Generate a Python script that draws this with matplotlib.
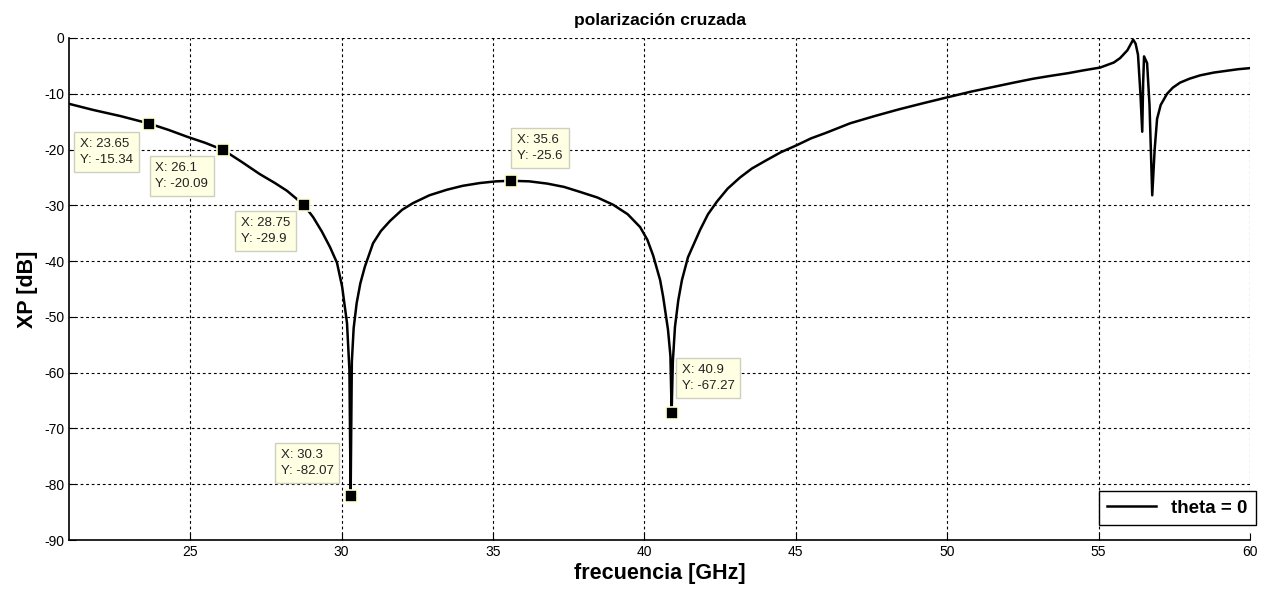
import numpy as np
import matplotlib
matplotlib.use("Agg")
import matplotlib.pyplot as plt

plt.rcParams["font.family"] = ["Liberation Sans", "DejaVu Sans"]
plt.rcParams["axes.unicode_minus"] = False

# curve
freq = [21.0, 21.8, 22.7, 23.65, 24.3, 24.9, 25.5, 26.1, 26.7, 27.3, 27.8, 28.2,
        28.75, 29.06, 29.35, 29.62, 29.85, 30.02, 30.18, 30.26, 30.3, 30.34, 30.4,
        30.5, 30.62, 30.77, 31.04, 31.3, 31.6, 32.0, 32.36, 32.9, 33.48, 34.0,
        34.57, 35.1, 35.6, 36.2, 36.79, 37.35, 37.88, 38.45, 38.97, 39.45, 39.86,
        40.1, 40.29, 40.52, 40.62, 40.78, 40.86, 40.9, 40.94, 41.01, 41.12, 41.24,
        41.44, 41.84, 42.1, 42.4, 42.75, 43.16, 43.55, 44.0, 44.5, 45.04, 45.5,
        46.0, 46.79, 47.6, 48.4, 49.2, 50.03, 50.8, 51.5, 52.2, 52.84, 53.4, 54.0,
        54.5, 55.05, 55.5, 55.71, 55.95, 56.14, 56.22, 56.3, 56.38, 56.44,
        56.47, 56.5, 56.6, 56.68, 56.77, 56.85, 56.93, 57.05, 57.26, 57.45, 57.69,
        58.0, 58.35, 58.8, 59.2, 59.6, 60.0]
xp = [-11.8, -12.9, -14.0, -15.34, -16.5, -17.7, -18.8, -20.09, -22.2, -24.4,
      -26.0, -27.4, -29.9, -32.1, -34.7, -37.5, -40.3, -44.6, -51.1, -59.5,
      -82.07, -58.0, -52.0, -47.5, -44.0, -41.0, -36.8, -34.6, -32.8, -30.8,
      -29.6, -28.2, -27.2, -26.5, -26.0, -25.7, -25.6, -25.7, -26.1, -26.7,
      -27.6, -28.6, -29.9, -31.6, -33.9, -36.2, -39.0, -43.4, -46.4, -52.3,
      -57.0, -67.27, -58.0, -51.8, -47.0, -43.4, -39.3, -34.4, -31.6, -29.3,
      -27.0, -25.0, -23.4, -22.0, -20.5, -19.2, -18.0, -17.0, -15.3, -14.0,
      -12.8, -11.7, -10.6, -9.6, -8.8, -8.0, -7.3, -6.8, -6.3, -5.8, -5.3,
      -4.4, -3.6, -2.2, -0.3, -1.0, -3.0, -10.0, -16.8, -8.0, -3.3, -4.5,
      -12.0, -28.2, -20.0, -14.5, -12.0, -10.0, -8.9, -8.0, -7.3, -6.7, -6.2,
      -5.9, -5.6, -5.4]

# data tips
tip_x = [23.65, 26.1, 28.75, 30.3, 35.6, 40.9]
tip_y = [-15.34, -20.09, -29.9, -82.07, -25.6, -67.27]
tip_labels = ["X: 23.65\nY: -15.34", "X: 26.1\nY: -20.09", "X: 28.75\nY: -29.9",
              "X: 30.3\nY: -82.07", "X: 35.6\nY: -25.6", "X: 40.9\nY: -67.27"]
tip_offsets = [(-69, -14), (-68, -12), (-63, -12), (-70, 47), (6, 47), (10, 49)]

xticks = [25, 30, 35, 40, 45, 50, 55, 60]
yticks = list(range(-90, 1, 10))

fig = plt.figure(figsize=(12.66, 5.9), dpi=100)
ax = fig.add_axes([0.0545, 0.0847, 0.9329, 0.8509])

ax.plot(freq, xp, color="black", lw=1.8, label="theta = 0", zorder=3)

for x, y, lab, off in zip(tip_x, tip_y, tip_labels, tip_offsets):
    ax.plot(x, y, marker="s", ms=8, color="black", mec="#ffffd0", mew=1.2,
            zorder=5, clip_on=False)
    ax.annotate(lab, xy=(x, y), xytext=off, textcoords="offset pixels",
                ha="left", va="top", fontsize=9.5, color="#222222", linespacing=1.45,
                bbox=dict(boxstyle="square,pad=0.45", fc="#ffffe4", ec="#cfcfbf", lw=1),
                zorder=6)

ax.set_xlim(21, 60)
ax.set_ylim(-90, 0)
ax.set_xticks(xticks)
ax.set_yticks(yticks)
ax.tick_params(direction="in", length=5, labelsize=10, top=False, right=False)
ax.grid(True, color="black", linestyle=(0, (2.5, 2.5)), lw=0.8)
ax.spines["top"].set_visible(False)
ax.spines["right"].set_visible(False)
ax.spines["left"].set_linewidth(1.2)
ax.spines["bottom"].set_linewidth(1.2)

ax.set_title("polarización cruzada", fontsize=12.5, fontweight="bold", pad=9)
ax.set_xlabel("frecuencia [GHz]", fontsize=15.5, fontweight="bold", labelpad=3)
ax.set_ylabel("XP [dB]", fontsize=15.5, fontweight="bold", labelpad=4)

leg = ax.legend(loc="lower right", bbox_to_anchor=(1.005, 0.03),
                prop={"weight": "bold", "size": 13.5},
                fancybox=False, framealpha=1, edgecolor="black", handlelength=2.6,
                borderpad=0.45, borderaxespad=0.0)
leg.get_frame().set_linewidth(1.0)

fig.savefig("out.png", dpi=100)
